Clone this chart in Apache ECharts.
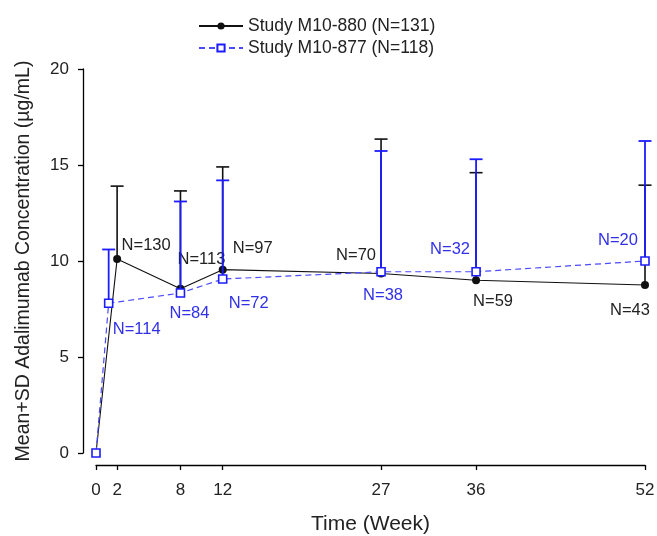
<!DOCTYPE html>
<html>
<head>
<meta charset="utf-8">
<script src="https://cdn.jsdelivr.net/npm/echarts@6/dist/echarts.min.js"></script>
<style>
html,body{margin:0;padding:0;background:#fff;}
#c{width:657px;height:536px;}
</style>
</head>
<body>
<div id="c"></div>
<script>
// ---- data ----
var xTicks = [0, 2, 8, 12, 27, 36, 52];
var yTicks = [0, 5, 10, 15, 20];

var name880 = 'Study M10-880 (N=131)';
var weeks880 = [0, 2, 8, 12, 27, 36, 52];
var mean880 = [0, 10.1, 8.55, 9.55, 9.35, 9.0, 8.75];
var sd880 = [0, 3.8, 5.1, 5.35, 7.0, 5.6, 5.2];
var n880 = [null, 130, 113, 97, 70, 59, 43];

var name877 = 'Study M10-877 (N=118)';
var weeks877 = [0, 1.2, 8, 12, 27, 36, 52];
var mean877 = [0, 7.8, 8.33, 9.06, 9.44, 9.44, 10.0];
var sd877 = [0, 2.8, 4.77, 5.14, 6.29, 5.86, 6.25];
var n877 = [null, 114, 84, 72, 38, 32, 20];

// ---- label placement (pixels, styling only) ----
var off880 = [null, [29, -14], [21, -29], [30, -21], [-25, -18], [17, 21], [-15, 25]];
var off877 = [null, [28, 26], [9, 20], [26, 24], [2, 24], [-26, -22], [-27, -21]];

var FONT = 'Liberation Sans, Arial, sans-serif';
var BLACK = '#111111';
var BLUE = '#1c1cff';

function lineData(weeks, means, ns, offs, color) {
  return weeks.map(function (w, i) {
    var item = { value: [w, means[i]] };
    if (ns[i] != null) {
      item.label = {
        show: true,
        position: 'inside',
        offset: offs[i],
        formatter: 'N=' + ns[i],
        color: color,
        fontSize: 16.5,
        fontFamily: FONT
      };
    }
    return item;
  });
}

function errData(weeks, means, sds) {
  return weeks.map(function (w, i) { return [w, means[i], means[i] + sds[i]]; })
    .filter(function (d) { return d[2] > d[1]; });
}

function errRender(color, width) {
  return function (params, api) {
    var x = api.value(0);
    var p0 = api.coord([x, api.value(1)]);
    var p1 = api.coord([x, api.value(2)]);
    var hw = 6.5;
    return {
      type: 'group',
      children: [
        { type: 'line', shape: { x1: p0[0], y1: p0[1], x2: p1[0], y2: p1[1] }, style: { stroke: color, lineWidth: width } },
        { type: 'line', shape: { x1: p1[0] - hw, y1: p1[1], x2: p1[0] + hw, y2: p1[1] }, style: { stroke: color, lineWidth: width } }
      ]
    };
  };
}

var chart = echarts.init(document.getElementById('c'), null, { renderer: 'canvas' });
chart.setOption({
  animation: false,
  backgroundColor: '#ffffff',
  textStyle: { fontFamily: FONT },
  legend: {
    orient: 'vertical',
    left: 193,
    top: 12,
    itemWidth: 44,
    itemHeight: 9,
    itemGap: 4,
    data: [name880, name877],
    textStyle: { fontSize: 17.5, color: '#222', fontFamily: FONT }
  },
  grid: { left: 96, right: 12, top: 69, bottom: 83, outerBoundsMode: 'none' },
  xAxis: {
    type: 'value',
    min: 0,
    max: 52,
    offset: 12,
    name: 'Time (Week)',
    nameLocation: 'middle',
    nameGap: 49,
    nameTextStyle: { fontSize: 21, color: '#222', fontFamily: FONT },
    splitLine: { show: false },
    axisLine: { show: true, onZero: false, lineStyle: { color: '#000', width: 1.3 } },
    axisTick: { show: true, inside: false, length: 5, customValues: xTicks, lineStyle: { color: '#000', width: 1.3 } },
    axisLabel: { customValues: xTicks, fontSize: 17, color: '#222', margin: 17, fontFamily: FONT }
  },
  yAxis: {
    type: 'value',
    min: 0,
    max: 20,
    interval: 5,
    offset: 13,
    name: 'Mean+SD Adalimumab Concentration (µg/mL)',
    nameLocation: 'middle',
    nameGap: 49,
    nameTextStyle: { fontSize: 19.5, color: '#222', fontFamily: FONT },
    splitLine: { show: false },
    axisLine: { show: true, onZero: false, lineStyle: { color: '#000', width: 1.3 } },
    axisTick: { show: true, inside: false, length: 5, lineStyle: { color: '#000', width: 1.3 } },
    axisLabel: {
      customValues: yTicks,
      fontSize: 17, color: '#222', margin: 14, fontFamily: FONT
    }
  },
  series: [
    {
      type: 'custom',
      z: 1,
      renderItem: errRender(BLACK, 1.6),
      data: errData(weeks880, mean880, sd880),
      encode: { x: 0, y: [1, 2] },
      silent: true
    },
    {
      name: name880,
      type: 'line',
      z: 2,
      data: lineData(weeks880, mean880, n880, off880, '#222'),
      symbol: 'circle',
      symbolSize: 8,
      itemStyle: { color: BLACK },
      lineStyle: { color: BLACK, width: 1.1 },
      label: { show: false }
    },
    {
      type: 'custom',
      z: 3,
      renderItem: errRender(BLUE, 1.8),
      data: errData(weeks877, mean877, sd877),
      encode: { x: 0, y: [1, 2] },
      silent: true
    },
    {
      name: name877,
      type: 'line',
      z: 4,
      data: lineData(weeks877, mean877, n877, off877, '#3030e8'),
      symbol: 'rect',
      symbolSize: 8,
      showAllSymbol: true,
      itemStyle: { color: '#ffffff', borderColor: BLUE, borderWidth: 1.6 },
      lineStyle: { color: '#4a4aff', width: 1.2, type: [6, 4] },
      label: { show: false }
    }
  ]
});
</script>
</body>
</html>
